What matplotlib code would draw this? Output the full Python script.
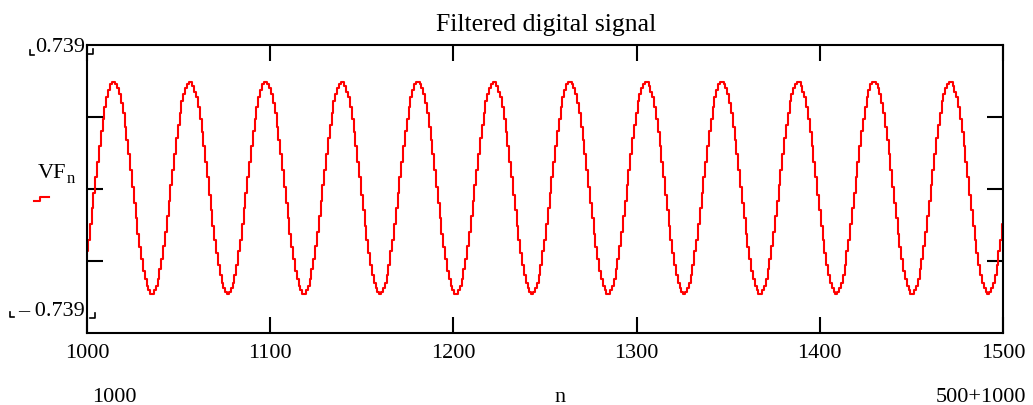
import numpy as np
import matplotlib.pyplot as plt
from matplotlib.lines import Line2D

plt.rcParams['font.family'] = ['Liberation Serif', 'DejaVu Serif']

# filtered signal VF_n, n = 1000 ... 1500
n = np.arange(1000, 1501)
vf = [
    -0.32, -0.26, -0.18, -0.10, -0.02, 0.06, 0.14, 0.22, 0.30, 0.36,
    0.42, 0.47, 0.51, 0.54, 0.55, 0.55, 0.54, 0.52, 0.49, 0.44,
    0.39, 0.32, 0.25, 0.18, 0.10, 0.01, -0.07, -0.15, -0.23, -0.30,
    -0.36, -0.42, -0.46, -0.50, -0.52, -0.54, -0.54, -0.52, -0.50, -0.46,
    -0.41, -0.36, -0.29, -0.22, -0.14, -0.06, 0.02, 0.10, 0.18, 0.26,
    0.33, 0.39, 0.45, 0.49, 0.52, 0.54, 0.55, 0.55, 0.53, 0.50,
    0.47, 0.42, 0.36, 0.29, 0.22, 0.14, 0.06, -0.03, -0.11, -0.19,
    -0.26, -0.33, -0.39, -0.44, -0.48, -0.51, -0.53, -0.54, -0.53, -0.51,
    -0.48, -0.44, -0.39,
    -0.32, -0.26, -0.18, -0.10, -0.02, 0.06, 0.14, 0.22, 0.30, 0.36,
    0.42, 0.47, 0.51, 0.54, 0.55, 0.55, 0.54, 0.52, 0.49, 0.44,
    0.39, 0.32, 0.25, 0.18, 0.10, 0.01, -0.07, -0.15, -0.23, -0.30,
    -0.36, -0.42, -0.46, -0.50, -0.52, -0.54, -0.54, -0.52, -0.50, -0.46,
    -0.41, -0.36, -0.29, -0.22, -0.14, -0.06, 0.02, 0.10, 0.18, 0.26,
    0.33, 0.39, 0.45, 0.49, 0.52, 0.54, 0.55, 0.55, 0.53, 0.50,
    0.47, 0.42, 0.36, 0.29, 0.22, 0.14, 0.06, -0.03, -0.11, -0.19,
    -0.26, -0.33, -0.39, -0.44, -0.48, -0.51, -0.53, -0.54, -0.53, -0.51,
    -0.48, -0.44, -0.39,
    -0.32, -0.26, -0.18, -0.10, -0.02, 0.06, 0.14, 0.22, 0.30, 0.36,
    0.42, 0.47, 0.51, 0.54, 0.55, 0.55, 0.54, 0.52, 0.49, 0.44,
    0.39, 0.32, 0.25, 0.18, 0.10, 0.01, -0.07, -0.15, -0.23, -0.30,
    -0.36, -0.42, -0.46, -0.50, -0.52, -0.54, -0.54, -0.52, -0.50, -0.46,
    -0.41, -0.36, -0.29, -0.22, -0.14, -0.06, 0.02, 0.10, 0.18, 0.26,
    0.33, 0.39, 0.45, 0.49, 0.52, 0.54, 0.55, 0.55, 0.53, 0.50,
    0.47, 0.42, 0.36, 0.29, 0.22, 0.14, 0.06, -0.03, -0.11, -0.19,
    -0.26, -0.33, -0.39, -0.44, -0.48, -0.51, -0.53, -0.54, -0.53, -0.51,
    -0.48, -0.44, -0.39,
    -0.32, -0.26, -0.18, -0.10, -0.02, 0.06, 0.14, 0.22, 0.30, 0.36,
    0.42, 0.47, 0.51, 0.54, 0.55, 0.55, 0.54, 0.52, 0.49, 0.44,
    0.39, 0.32, 0.25, 0.18, 0.10, 0.01, -0.07, -0.15, -0.23, -0.30,
    -0.36, -0.42, -0.46, -0.50, -0.52, -0.54, -0.54, -0.52, -0.50, -0.46,
    -0.41, -0.36, -0.29, -0.22, -0.14, -0.06, 0.02, 0.10, 0.18, 0.26,
    0.33, 0.39, 0.45, 0.49, 0.52, 0.54, 0.55, 0.55, 0.53, 0.50,
    0.47, 0.42, 0.36, 0.29, 0.22, 0.14, 0.06, -0.03, -0.11, -0.19,
    -0.26, -0.33, -0.39, -0.44, -0.48, -0.51, -0.53, -0.54, -0.53, -0.51,
    -0.48, -0.44, -0.39,
    -0.32, -0.26, -0.18, -0.10, -0.02, 0.06, 0.14, 0.22, 0.30, 0.36,
    0.42, 0.47, 0.51, 0.54, 0.55, 0.55, 0.54, 0.52, 0.49, 0.44,
    0.39, 0.32, 0.25, 0.18, 0.10, 0.01, -0.07, -0.15, -0.23, -0.30,
    -0.36, -0.42, -0.46, -0.50, -0.52, -0.54, -0.54, -0.52, -0.50, -0.46,
    -0.41, -0.36, -0.29, -0.22, -0.14, -0.06, 0.02, 0.10, 0.18, 0.26,
    0.33, 0.39, 0.45, 0.49, 0.52, 0.54, 0.55, 0.55, 0.53, 0.50,
    0.47, 0.42, 0.36, 0.29, 0.22, 0.14, 0.06, -0.03, -0.11, -0.19,
    -0.26, -0.33, -0.39, -0.44, -0.48, -0.51, -0.53, -0.54, -0.53, -0.51,
    -0.48, -0.44, -0.39,
    -0.32, -0.26, -0.18, -0.10, -0.02, 0.06, 0.14, 0.22, 0.30, 0.36,
    0.42, 0.47, 0.51, 0.54, 0.55, 0.55, 0.54, 0.52, 0.49, 0.44,
    0.39, 0.32, 0.25, 0.18, 0.10, 0.01, -0.07, -0.15, -0.23, -0.30,
    -0.36, -0.42, -0.46, -0.50, -0.52, -0.54, -0.54, -0.52, -0.50, -0.46,
    -0.41, -0.36, -0.29, -0.22, -0.14, -0.06, 0.02, 0.10, 0.18, 0.26,
    0.33, 0.39, 0.45, 0.49, 0.52, 0.54, 0.55, 0.55, 0.53, 0.50,
    0.47, 0.42, 0.36, 0.29, 0.22, 0.14, 0.06, -0.03, -0.11, -0.19,
    -0.26, -0.33, -0.39, -0.44, -0.48, -0.51, -0.53, -0.54, -0.53, -0.51,
    -0.48, -0.44, -0.39,
    -0.32, -0.26, -0.18,
]

x_ticks = [1000, 1100, 1200, 1300, 1400, 1500]
y_lim = 0.739

W, H = 1033, 405
fig = plt.figure(figsize=(W / 100, H / 100), dpi=100)


def px(x, y):
    # pixel position -> figure fraction
    return x / W, 1 - y / H


ax = fig.add_axes([87 / W, 1 - 333 / H, (1003 - 87) / W, (333 - 45) / H])
ax.plot(n, vf, color='#ff0000', lw=1.5, drawstyle='steps-mid')

ax.set_xlim(1000, 1500)
ax.set_ylim(-y_lim, y_lim)
ax.set_xticks(x_ticks)
ax.set_yticks([-y_lim / 2, 0, y_lim / 2])
ax.set_yticklabels([])
ax.tick_params(direction='in', length=11.5, width=1.5, top=True, right=True,
               labelsize=16, pad=8, colors='black')
for s in ax.spines.values():
    s.set_linewidth(1.5)

# title and axis annotations, Mathcad style
fig.text(*px(546, 31), 'Filtered digital signal', ha='center', va='baseline', size=18.5)
fig.text(*px(85, 52), '0.739', ha='right', va='baseline', size=16)
fig.text(*px(85, 316), '\u2013 0.739', ha='right', va='baseline', size=16)
fig.text(*px(38, 178), 'VF', ha='left', va='baseline', size=16)
fig.text(*px(67, 183), 'n', ha='left', va='baseline', size=12)
fig.text(*px(114, 402), '1000', ha='center', va='baseline', size=16)
fig.text(*px(560, 402), 'n', ha='center', va='baseline', size=16)
fig.text(*px(1026, 402), '500+1000', ha='right', va='baseline', size=16)

# legend sample for the trace
lx, ly = zip(px(34, 200.5), px(40, 200.5), px(40, 197), px(49, 197))
fig.add_artist(Line2D(lx, ly, color='#ff0000', lw=1.5))

# little placeholder corners around the limits
for (x0, y0) in [(30, 55), (10, 317)]:
    bx, by = zip(px(x0, y0 - 5), px(x0, y0), px(x0 + 4, y0))
    fig.add_artist(Line2D(bx, by, color='black', lw=1.2))
for (x0, y0) in [(93, 54), (95, 318)]:
    bx, by = zip(px(x0 - 5, y0), px(x0, y0), px(x0, y0 - 5))
    fig.add_artist(Line2D(bx, by, color='black', lw=1.2))

fig.savefig('out.png', dpi=100)
